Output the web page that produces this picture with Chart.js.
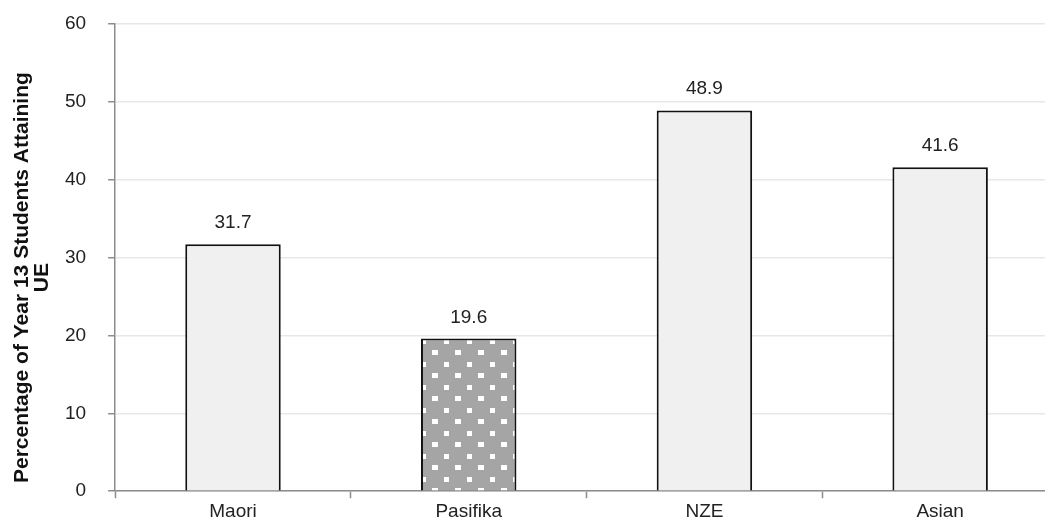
<!DOCTYPE html>
<html>
<head>
<meta charset="utf-8">
<script src="https://cdn.jsdelivr.net/npm/chart.js@4"></script>
<style>
  html, body { margin: 0; padding: 0; background: #fff; overflow: hidden; }
  #wrap { width: 1060px; height: 525px; }
</style>
</head>
<body>
<div id="wrap"><canvas id="chart" width="1060" height="525"></canvas></div>
<script>
// data
const groups = ['Maori', 'Pasifika', 'NZE', 'Asian'];
const pctUE = [31.7, 19.6, 48.9, 41.6];
const yTicks = [0, 10, 20, 30, 40, 50, 60];
const yTitle = ['Percentage of Year 13 Students Attaining', 'UE'];

(() => {
  const FONT = '"Liberation Sans", Arial, sans-serif';

  // grey with white squares, like the Pasifika bar
  function dotPattern() {
    const c = document.createElement('canvas');
    c.width = 23; c.height = 23;
    const g = c.getContext('2d');
    g.fillStyle = '#a5a5a5';
    g.fillRect(0, 0, 23, 23);
    g.fillStyle = '#ffffff';
    g.fillRect(7, 17, 5, 5);
    g.fillRect(18, 5, 5, 5);
    g.fillRect(0, 5, 1, 5);
    return g.createPattern(c, 'repeat');
  }
  const pat = dotPattern();

  const valueLabels = {
    id: 'valueLabels',
    afterDatasetsDraw(chart) {
      const ctx = chart.ctx;
      const meta = chart.getDatasetMeta(0);
      ctx.save();
      ctx.font = '19px ' + FONT;
      ctx.fillStyle = '#222';
      ctx.textAlign = 'center';
      ctx.textBaseline = 'alphabetic';
      meta.data.forEach((bar, i) => {
        ctx.fillText(pctUE[i].toFixed(1), bar.x, bar.y - 16);
      });
      ctx.restore();
    }
  };

  // y title sits a bit below the axis middle in the original, so drawn by hand
  const sideTitle = {
    id: 'sideTitle',
    afterDraw(chart) {
      const ctx = chart.ctx;
      const a = chart.chartArea;
      const cy = (a.top + a.bottom) / 2 + 20;
      ctx.save();
      ctx.font = 'bold 21px ' + FONT;
      ctx.fillStyle = '#111';
      ctx.textAlign = 'center';
      ctx.textBaseline = 'alphabetic';
      [28, 48].forEach((bx, i) => {
        ctx.save();
        ctx.translate(bx, cy);
        ctx.rotate(-Math.PI / 2);
        ctx.fillText(yTitle[i], 0, 0);
        ctx.restore();
      });
      ctx.restore();
    }
  };

  new Chart(document.getElementById('chart'), {
    type: 'bar',
    data: {
      labels: groups,
      datasets: [{
        data: pctUE,
        backgroundColor: groups.map(g => g === 'Pasifika' ? pat : '#f0f0f0'),
        borderColor: '#111',
        borderWidth: 2,
        categoryPercentage: 1,
        barPercentage: 0.405
      }]
    },
    options: {
      responsive: false,
      animation: false,
      layout: { autoPadding: false, padding: { left: 43, right: 2, top: 24, bottom: 0 } },
      plugins: { legend: { display: false }, tooltip: { enabled: false } },
      scales: {
        x: {
          offset: true,
          grid: { offset: true, drawOnChartArea: false, tickLength: 7, color: '#8c8c8c', tickWidth: 1.5 },
          border: { color: '#8c8c8c', width: 1.5 },
          ticks: { color: '#222', font: { family: FONT, size: 19 }, padding: 2 }
        },
        y: {
          min: 0, max: 60,
          afterBuildTicks(axis) { axis.ticks = yTicks.map(v => ({ value: v })); },
          // tick padding also pads the top of the plot; drop that
          afterFit(axis) { axis.paddingTop = 0; axis.paddingBottom = 0; },
          grid: { color: '#e8e8e8', lineWidth: 1.5, tickLength: 7, tickColor: '#8c8c8c' },
          border: { color: '#8c8c8c', width: 1.5 },
          ticks: { color: '#222', font: { family: FONT, size: 19 }, padding: 22 }
        }
      }
    },
    plugins: [valueLabels, sideTitle]
  });
})();
</script>
</body>
</html>
